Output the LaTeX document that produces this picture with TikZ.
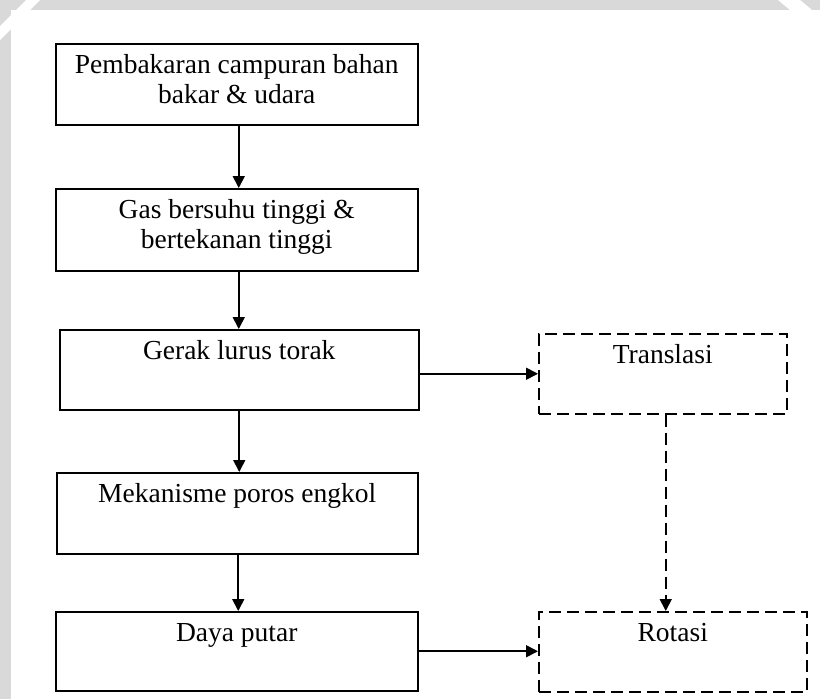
\documentclass[tikz,border=0pt]{standalone}
\usepackage{fontspec}
\setmainfont{Liberation Serif}
\usetikzlibrary{arrows.meta}
\definecolor{bggray}{HTML}{D9D9D9}
\tikzset{
  box/.style={draw=black, line width=1.5pt, rectangle, inner sep=0pt, anchor=north west},
  dbox/.style={box, dash pattern=on 12pt off 6pt},
  conn/.style={draw=black, line width=1.7pt, -{Triangle[length=12pt,width=12pt]}},
  dconn/.style={conn, dash pattern=on 12pt off 6pt},
}
\newcommand{\boxtext}[3]{\parbox[c][#2pt][t]{#1pt}{\centering\fontsize{27.5}{30}\selectfont\rule{0pt}{30pt}#3}}
\begin{document}
\begin{tikzpicture}[x=1pt,y=-1pt]
  \useasboundingbox (0,0) rectangle (820,699);
  % background
  \fill[bggray] (0,0) rectangle (820,699);
  \fill[white] (0,40) -- (0,26) -- (26,0) -- (40,0) -- cycle;
  \fill[white] (778,0) -- (800,0) -- (812,10) -- (790,10) -- cycle;
  \fill[white] (11,10) rectangle (820,699);
  % boxes
  \node[box] (b1) at (55,43) {\boxtext{362}{81}{Pembakaran campuran bahan\\bakar \& udara}};
  \node[box] (b2) at (55,188) {\boxtext{362}{82}{Gas bersuhu tinggi \&\\bertekanan tinggi}};
  \node[box] (b3) at (59,329) {\boxtext{359}{80}{Gerak lurus torak}};
  \node[box] (b4) at (56,472) {\boxtext{361}{81}{Mekanisme poros engkol}};
  \node[box] (b5) at (55,611) {\boxtext{362}{79}{Daya putar}};
  \node[dbox] (tr) at (538,333) {\boxtext{248}{80}{Translasi}};
  \node[dbox] (ro) at (538,611) {\boxtext{268}{80}{Rotasi}};
  % connectors
  \draw[conn] ([xshift=2pt]b1.south) -- ([xshift=2pt]b1.south |- b2.north);
  \draw[conn] ([xshift=2pt]b2.south) -- ([xshift=2pt]b2.south |- b3.north);
  \draw[conn] (b3.south) -- (b3.south |- b4.north);
  \draw[conn] ([xshift=1pt]b4.south) -- ([xshift=1pt]b4.south |- b5.north);
  \draw[conn] (b3.east |- tr.west) -- (tr.west);
  \draw[conn] (b5.east) -- (b5.east -| ro.west);
  \draw[dconn] ([xshift=3pt]tr.south) -- ([xshift=3pt]tr.south |- ro.north);
\end{tikzpicture}
\end{document}
